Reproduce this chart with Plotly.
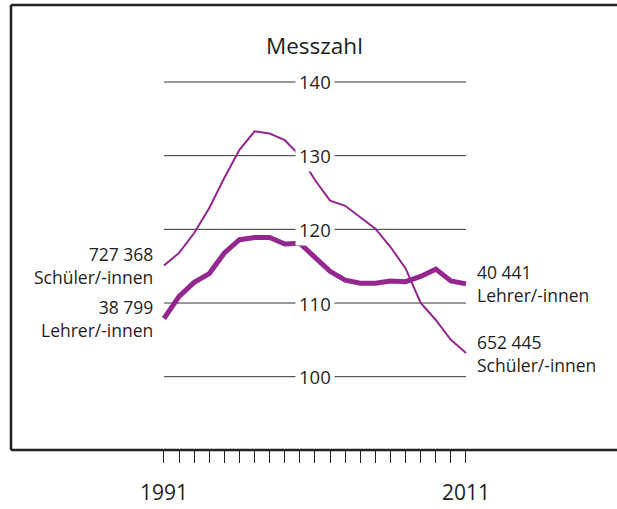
import plotly.graph_objects as go

years = list(range(1991, 2012))
schueler = [115.1, 116.8, 119.5, 122.9, 127.0, 130.8, 133.3, 133.0, 132.1, 130.0,
            126.7, 123.9, 123.2, 121.6, 120.1, 117.6, 114.7, 110.0, 107.7, 105.0, 103.2]
lehrer = [107.9, 110.9, 112.8, 114.0, 116.8, 118.6, 118.9, 118.9, 118.0, 118.1,
          116.2, 114.3, 113.1, 112.7, 112.7, 113.0, 112.9, 113.6, 114.6, 113.0, 112.6]
y_ticks = [100, 110, 120, 130, 140]
year_labels = {1991: "1991", 2011: "2011"}

label_schueler_start = "727 368<br>Schüler/-innen"
label_lehrer_start = "38 799<br>Lehrer/-innen"
label_lehrer_end = "40 441<br>Lehrer/-innen"
label_schueler_end = "652 445<br>Schüler/-innen"

PURPLE = "#93278F"
TXT = "#1e1e1e"
FONT = "Open Sans"
LBL = 17.5

fig = go.Figure()
fig.add_trace(go.Scatter(x=years, y=schueler, mode="lines",
                         line=dict(color=PURPLE, width=2), hoverinfo="skip"))
fig.add_trace(go.Scatter(x=years, y=lehrer, mode="lines",
                         line=dict(color=PURPLE, width=5), hoverinfo="skip"))

shapes = []
for v in y_ticks:
    shapes.append(dict(type="line", xref="x", yref="y", x0=years[0], x1=years[-1],
                       y0=v, y1=v, line=dict(color="#333333", width=1), layer="below"))
# frame (left, top, bottom; right side runs off the picture)
frame = dict(color="#222222", width=2.5)
shapes.append(dict(type="line", xref="paper", yref="paper", x0=0, x1=0, y0=0, y1=1,
                   line=frame, layer="above"))
shapes.append(dict(type="line", xref="paper", yref="paper", x0=0, x1=1.05, y0=1, y1=1,
                   line=frame, layer="above"))
shapes.append(dict(type="line", xref="paper", yref="paper", x0=0, x1=1.05, y0=0, y1=0,
                   line=frame, layer="above"))

annotations = []
for v in y_ticks:
    annotations.append(dict(x=(years[0] + years[-1]) / 2, y=v, xref="x", yref="y",
                            text=str(v), showarrow=False, bgcolor="white",
                            borderpad=3, font=dict(size=18.5, color=TXT, family=FONT)))
annotations.append(dict(x=(years[0] + years[-1]) / 2, y=144.9, xref="x", yref="y",
                        text="Messzahl", showarrow=False,
                        font=dict(size=22.5, color=TXT, family=FONT)))
annotations.append(dict(x=years[0], y=schueler[0], xref="x", yref="y", xanchor="right",
                        xshift=-9, text=label_schueler_start, align="right", showarrow=False,
                        font=dict(size=LBL, color=TXT, family=FONT)))
annotations.append(dict(x=years[0], y=lehrer[0], xref="x", yref="y", xanchor="right",
                        xshift=-9, text=label_lehrer_start, align="right", showarrow=False,
                        font=dict(size=LBL, color=TXT, family=FONT)))
annotations.append(dict(x=years[-1], y=lehrer[-1], xref="x", yref="y", xanchor="left",
                        xshift=9, text=label_lehrer_end, align="left", showarrow=False,
                        font=dict(size=LBL, color=TXT, family=FONT)))
annotations.append(dict(x=years[-1], y=schueler[-1], xref="x", yref="y", xanchor="left",
                        xshift=9, text=label_schueler_end, align="left", showarrow=False,
                        font=dict(size=LBL, color=TXT, family=FONT)))
for yr, txt in year_labels.items():
    annotations.append(dict(x=yr, y=0, xref="x", yref="paper", yanchor="top", yshift=-26,
                            text=txt, showarrow=False,
                            font=dict(size=21, color=TXT, family=FONT)))

fig.update_layout(
    width=617, height=509,
    margin=dict(l=11, r=0, t=5, b=59),
    paper_bgcolor="white", plot_bgcolor="white",
    showlegend=False,
    shapes=shapes, annotations=annotations,
    xaxis=dict(range=[1980.87, 2021.0], showgrid=False, zeroline=False, showline=False,
               tickvals=years, ticktext=[""] * len(years), ticks="outside",
               ticklen=12, tickwidth=1, tickcolor="#222222", fixedrange=True),
    yaxis=dict(range=[90.05, 150.45], showgrid=False, zeroline=False, showline=False,
               showticklabels=False, fixedrange=True),
)

fig.write_html("out.html", config={"displayModeBar": False},
               post_script="document.body.style.margin='0px';document.body.style.overflow='hidden';")
